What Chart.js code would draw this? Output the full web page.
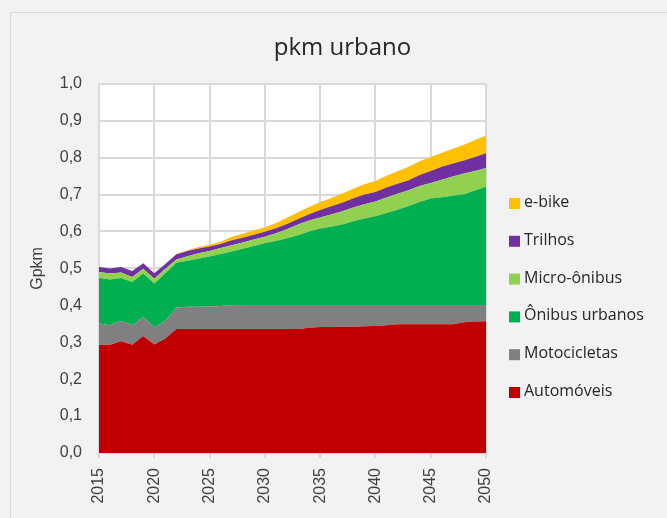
<!DOCTYPE html>
<html>
<head>
<meta charset="utf-8">
<script src="https://cdn.jsdelivr.net/npm/chart.js@4.4.1/dist/chart.umd.min.js"></script>
<style>
    body { margin: 0; background: #f2f2f2; }
    #wrap { position: relative; width: 667px; height: 518px; overflow: hidden; }
    #frame { position: absolute; left: 10px; top: 12px; width: 720px; height: 600px; border: 1px solid #d9d9d9; pointer-events: none; }
    canvas { position: absolute; left: 0; top: 0; }
</style>
</head>
<body>
<div id="wrap">
    <div id="frame"></div>
    <canvas id="chart" width="667" height="518"></canvas>
</div>
<script>
const years = [2015, 2016, 2017, 2018, 2019, 2020, 2021, 2022, 2023, 2024, 2025, 2026, 2027, 2028, 2029, 2030, 2031, 2032,
    2033, 2034, 2035, 2036, 2037, 2038, 2039, 2040, 2041, 2042, 2043, 2044, 2045, 2046, 2047, 2048, 2049, 2050];

// Gpkm per mode (stacked, bottom to top)
const automoveis = [0.293, 0.293, 0.303, 0.293, 0.317, 0.294, 0.310, 0.336, 0.336, 0.336, 0.336, 0.336, 0.336, 0.336, 0.336, 0.336, 0.336, 0.336,
    0.336, 0.339, 0.341, 0.341, 0.342, 0.342, 0.343, 0.344, 0.346, 0.349, 0.349, 0.349, 0.349, 0.349, 0.349, 0.354, 0.356, 0.357];
const motocicletas = [0.058, 0.053, 0.055, 0.053, 0.051, 0.046, 0.048, 0.058, 0.060, 0.060, 0.061, 0.062, 0.064, 0.065, 0.065, 0.065, 0.065, 0.065,
    0.065, 0.062, 0.060, 0.060, 0.059, 0.059, 0.058, 0.057, 0.055, 0.052, 0.052, 0.052, 0.052, 0.052, 0.052, 0.047, 0.045, 0.044];
const onibusUrbanos = [0.123, 0.124, 0.116, 0.117, 0.118, 0.119, 0.129, 0.121, 0.125, 0.130, 0.135, 0.141, 0.146, 0.152, 0.160, 0.167, 0.173, 0.181,
    0.189, 0.199, 0.207, 0.212, 0.218, 0.227, 0.234, 0.240, 0.249, 0.258, 0.268, 0.279, 0.288, 0.292, 0.296, 0.300, 0.310, 0.320];
const microOnibus = [0.016, 0.016, 0.015, 0.014, 0.013, 0.013, 0.012, 0.009, 0.012, 0.015, 0.015, 0.016, 0.017, 0.017, 0.017, 0.018, 0.021, 0.024,
    0.029, 0.030, 0.030, 0.033, 0.036, 0.037, 0.039, 0.040, 0.042, 0.043, 0.043, 0.043, 0.042, 0.047, 0.052, 0.056, 0.053, 0.051];
const trilhos = [0.014, 0.014, 0.015, 0.016, 0.015, 0.015, 0.013, 0.014, 0.014, 0.013, 0.012, 0.011, 0.013, 0.013, 0.013, 0.013, 0.014, 0.014,
    0.015, 0.017, 0.020, 0.022, 0.023, 0.025, 0.026, 0.026, 0.027, 0.027, 0.027, 0.030, 0.033, 0.035, 0.035, 0.035, 0.038, 0.040];
const eBike = [0, 0, 0, 0, 0, 0, 0, 0.001, 0.002, 0.004, 0.005, 0.006, 0.010, 0.011, 0.012, 0.012, 0.014, 0.017,
    0.018, 0.019, 0.022, 0.023, 0.025, 0.026, 0.028, 0.030, 0.032, 0.034, 0.036, 0.037, 0.038, 0.038, 0.040, 0.043, 0.046, 0.048];

const series = [
    { label: 'Automóveis', data: automoveis, color: '#c00000' },
    { label: 'Motocicletas', data: motocicletas, color: '#808080' },
    { label: 'Ônibus urbanos', data: onibusUrbanos, color: '#00b050' },
    { label: 'Micro-ônibus', data: microOnibus, color: '#92d050' },
    { label: 'Trilhos', data: trilhos, color: '#7030a0' },
    { label: 'e-bike', data: eBike, color: '#ffc000' }
];

// white plot area like the spreadsheet chart
const plotBackground = {
    id: 'plotBackground',
    beforeDraw(chart) {
        const { ctx, chartArea: a } = chart;
        ctx.save();
        ctx.fillStyle = '#ffffff';
        ctx.fillRect(a.left, a.top, a.right - a.left, a.bottom - a.top);
        ctx.restore();
    }
};

// legend on the right, top series first (built-in legend is capped in width)
const sideLegend = {
    id: 'sideLegend',
    afterDraw(chart) {
        const { ctx, chartArea: a } = chart;
        const items = chart.data.datasets.slice().reverse();
        const step = 37.8;
        const x = a.right + 23;
        let y = 298 - step * (items.length - 1) / 2;
        ctx.save();
        ctx.font = '16px "Open Sans"';
        ctx.textBaseline = 'middle';
        items.forEach(ds => {
            ctx.fillStyle = ds.backgroundColor;
            ctx.fillRect(x, y - 5.5, 11, 11);
            ctx.fillStyle = '#262626';
            ctx.fillText(ds.label, x + 15, y - 1);
            y += step;
        });
        ctx.restore();
    }
};

const isFive = i => years[i] % 5 === 0;

new Chart(document.getElementById('chart'), {
    type: 'line',
    data: {
        labels: years,
        datasets: series.map((s, i) => ({
            label: s.label,
            data: s.data,
            backgroundColor: s.color,
            borderColor: s.color,
            borderWidth: 0,
            pointRadius: 0,
            fill: i === 0 ? 'origin' : '-1',
            tension: 0
        }))
    },
    options: {
        responsive: false,
        animation: false,
        layout: { padding: { left: 24, right: 6, top: 22, bottom: 0 } },
        plugins: {
            title: {
                display: true,
                text: 'pkm urbano',
                color: '#262626',
                font: { family: 'Open Sans', size: 24, weight: 'normal' },
                padding: { top: 12, bottom: 21 }
            },
            legend: { display: false },
            tooltip: { enabled: false }
        },
        scales: {
            x: {
                afterFit: scale => { scale.height = 65; },
                grid: {
                    color: ctx => isFive(ctx.index) ? '#d9d9d9' : 'rgba(0,0,0,0)',
                    lineWidth: 2,
                    tickLength: 5
                },
                border: { color: '#d9d9d9' },
                ticks: {
                    autoSkip: false,
                    maxRotation: 90,
                    minRotation: 90,
                    padding: 10,
                    color: '#404040',
                    font: { family: 'Liberation Sans', size: 16 },
                    callback: (value, index) => isFive(index) ? String(years[index]) : ''
                }
            },
            y: {
                stacked: true,
                min: 0,
                max: 1,
                afterFit: scale => { scale.width = 75; },
                title: {
                    display: true,
                    text: 'Gpkm',
                    color: '#404040',
                    font: { family: 'Liberation Sans', size: 16 },
                    padding: { top: 4, bottom: 4 }
                },
                grid: { color: '#d9d9d9', lineWidth: 2, drawTicks: false },
                border: { display: false },
                ticks: {
                    stepSize: 0.1,
                    padding: 17,
                    color: '#404040',
                    font: { family: 'Liberation Sans', size: 16 },
                    callback: v => v.toFixed(1).replace('.', ',')
                }
            },
            // empty right-hand box that reserves room for the legend
            legendSpace: {
                axis: 'y',
                position: 'right',
                afterFit: scale => { scale.width = 175; },
                grid: { display: false },
                border: { display: false },
                ticks: { display: false }
            }
        }
    },
    plugins: [plotBackground, sideLegend]
});
</script>
</body>
</html>
